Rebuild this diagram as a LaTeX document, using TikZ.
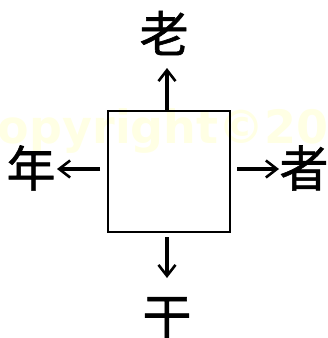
\documentclass[tikz,border=0pt]{standalone}
\usepackage{fontspec}
\newfontfamily\cjkfont{Noto Sans CJK JP}[FakeBold=1.2]
\newfontfamily\wmfont{DejaVu Sans}[BoldFont={DejaVu Sans Bold}]
\usetikzlibrary{arrows.meta}
\definecolor{wmyellow}{RGB}{255,255,228}
\tikzset{
  kanji/.style={font=\cjkfont\fontsize{49}{52}\selectfont, inner sep=0pt},
  arr/.style={line width=3.2pt, -{Straight Barb[length=11pt,width=17pt,line width=2.6pt]}},
  boxstyle/.style={draw, line width=2.3pt, minimum width=122pt, minimum height=121pt, inner sep=0pt},
  watermark/.style={font=\wmfont\bfseries\fontsize{46}{50}\selectfont, text=wmyellow, inner sep=0pt, anchor=base west}
}
\begin{document}
\begin{tikzpicture}[x=1pt,y=-1pt]
\useasboundingbox (0,0) rectangle (328,338);
\node[watermark] (wm) at (-36,143) {Copyright©20};
\node[boxstyle] (box) at (169,171.5) {};
\node[kanji] (top) at (164,33) {老};
\node[kanji] (left) at (31,168) {年};
\node[kanji] (right) at (304,168) {者};
\node[kanji] (bottom) at (167,318) {干};
\coordinate (upS) at (167,111);
\coordinate (upE) at (167,68);
\coordinate (leftS) at (100,169);
\coordinate (leftE) at (57,169);
\coordinate (rightS) at (237,169);
\coordinate (rightE) at (279,169);
\coordinate (downS) at (167,237);
\coordinate (downE) at (167,278);
\draw[arr] (upS) -- (upE);
\draw[arr] (leftS) -- (leftE);
\draw[arr] (rightS) -- (rightE);
\draw[arr] (downS) -- (downE);
\end{tikzpicture}
\end{document}
